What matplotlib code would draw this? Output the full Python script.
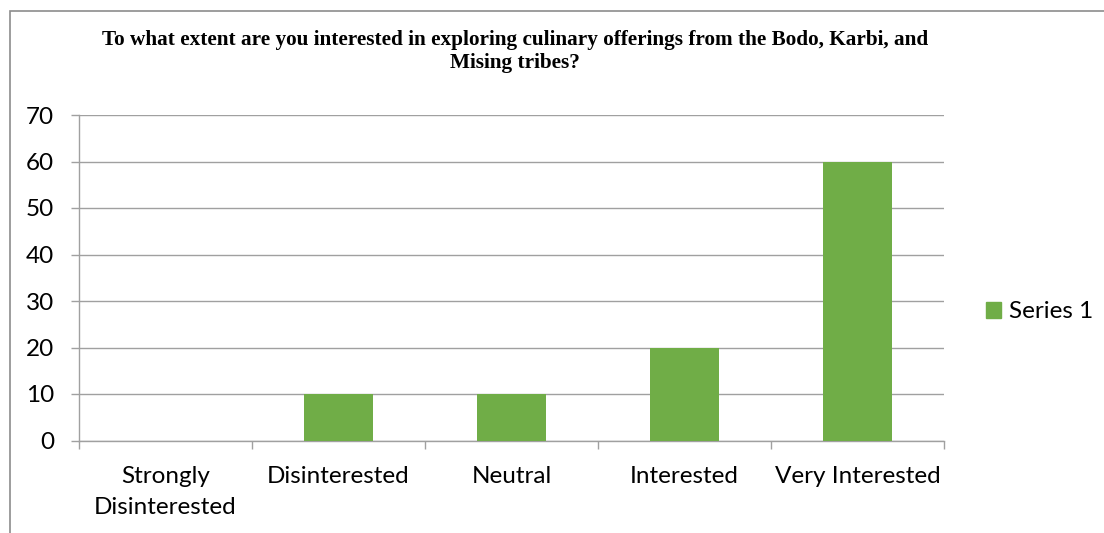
import matplotlib.pyplot as plt
from matplotlib.patches import Rectangle, Patch
import numpy as np

categories = ["Strongly\nDisinterested", "Disinterested", "Neutral", "Interested", "Very Interested"]
values = [0, 10, 10, 20, 60]
yticks = [0, 10, 20, 30, 40, 50, 60, 70]

title = ("To what extent are you interested in exploring culinary offerings from the Bodo, Karbi, and\n"
         "Mising tribes?")

grid_col = "#a0a0a0"
bar_col = "#70ad47"
fsize = 17.5

fig = plt.figure(figsize=(11.04, 5.33), dpi=100)
ax = fig.add_axes([79 / 1104, 1 - 440.5 / 533, (944 - 79) / 1104, (440.5 - 115) / 533])

x = np.arange(len(categories))
ax.bar(x, values, width=0.4, color=bar_col, zorder=3)

ax.set_xlim(-0.5, len(categories) - 0.5)
ax.set_ylim(0, 70)
ax.set_yticks(yticks)
ax.yaxis.grid(True, color=grid_col, linewidth=1)
ax.set_axisbelow(True)

for s in ["top", "right"]:
    ax.spines[s].set_visible(False)
for s in ["left", "bottom"]:
    ax.spines[s].set_color(grid_col)
    ax.spines[s].set_linewidth(1)

# category labels on centres, tick marks on the boundaries
ax.set_xticks(x)
ax.set_xticklabels(categories, fontfamily="Lato", fontsize=fsize, linespacing=1.55)
ax.set_xticks(np.arange(len(categories) + 1) - 0.5, minor=True)
ax.tick_params(axis="x", which="major", length=0, pad=18.5)
ax.tick_params(axis="x", which="minor", length=6, color=grid_col, width=1)
ax.tick_params(axis="y", length=6, color=grid_col, width=1, pad=12)
for lab in ax.get_yticklabels():
    lab.set_fontfamily("Lato")
    lab.set_fontsize(fsize)

fig.text(515 / 1104, 1 - 30 / 533, title, ha="center", va="top", multialignment="center",
         fontfamily="Liberation Serif", fontweight="bold", fontsize=15.3, linespacing=1.2)

fig.legend(handles=[Patch(color=bar_col, label="Series 1")], loc="center left",
           bbox_to_anchor=(986 / 1104, 1 - 312 / 533), frameon=False,
           prop={"family": "Lato", "size": fsize}, handlelength=0.6, handleheight=0.6,
           handletextpad=0.35, borderpad=0, borderaxespad=0)

# outer chart border
fig.patches.append(Rectangle((10 / 1104, -0.1), 1.2, 1.1 - 11 / 533, transform=fig.transFigure,
                             fill=False, edgecolor="#8c8c8c", linewidth=1.2))

fig.savefig("out.png", dpi=100)
